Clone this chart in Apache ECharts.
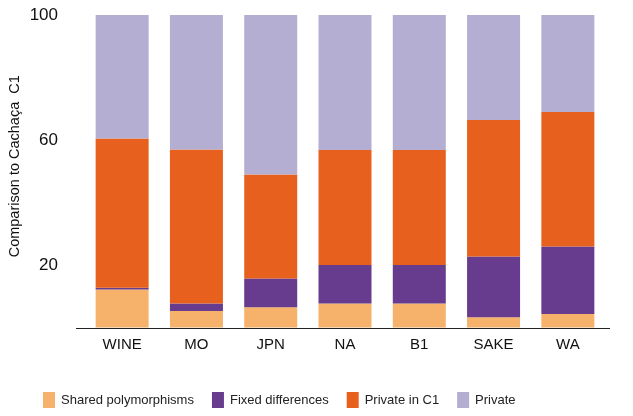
<!DOCTYPE html>
<html><head><meta charset="utf-8">
<script src="https://cdn.jsdelivr.net/npm/echarts@6/dist/echarts.min.js"></script>
<style>html,body{margin:0;padding:0;background:#fff}#c{width:633px;height:416px}</style>
</head><body><div id="c"></div>
<script>
var categories = ['WINE','MO','JPN','NA','B1','SAKE','WA'];
var sharedPolymorphisms = [12.2, 5.3, 6.5, 7.7, 7.7, 3.3, 4.3];
var fixedDifferences = [0.5, 2.4, 9.2, 12.3, 12.3, 19.4, 21.6];
var privateInC1 = [47.8, 49.3, 33.3, 36.8, 36.8, 43.7, 43.1];
var privateOther = [39.5, 43.0, 51.0, 43.2, 43.2, 33.6, 31.0];
var seriesNames = ['Shared polymorphisms','Fixed differences','Private in C1','Private'];
var yTickLabels = [20, 60, 100];

var colors = ['#F6B26B','#673C8E','#E8601E','#B4AED2'];
var font = 'Liberation Sans, Arial, sans-serif';
var chart = echarts.init(document.getElementById('c'), null, {renderer:'canvas'});
var dataSets = [sharedPolymorphisms, fixedDifferences, privateInC1, privateOther];
var option = {
  animation: false,
  color: colors,
  textStyle: {fontFamily: font},
  grid: {left: 85, right: 28, top: 15, bottom: 88.5, containLabel: false, outerBoundsMode: 'none'},
  legend: {
    left: 38, bottom: 3, itemWidth: 12, itemHeight: 16, itemGap: 18,
    icon: 'rect',
    textStyle: {fontSize: 13, color: '#222', fontFamily: font, padding: [0,0,0,1]},
    data: seriesNames
  },
  xAxis: {
    type: 'category', data: categories,
    axisLine: {show: false},
    axisTick: {show: false},
    axisLabel: {fontSize: 15, color: '#111', margin: 10, fontFamily: font}
  },
  yAxis: {
    type: 'value', min: 0, max: 100, interval: 20,
    name: 'Comparison to Cachaça  C1', nameLocation: 'middle', nameGap: 63,
    nameMoveOverlap: false,
    nameTextStyle: {fontSize: 14.5, color: '#111', fontFamily: font, padding: [0,0,0,10]},
    axisLine: {show: false}, axisTick: {show: false}, splitLine: {show: false},
    axisLabel: {fontSize: 17, color: '#111', margin: 27, fontFamily: font,
      formatter: function(v){ return yTickLabels.indexOf(v) >= 0 ? String(v) : ''; }}
  },
  series: dataSets.map(function(d, i){
    return {name: seriesNames[i], type: 'bar', stack: 'all', barWidth: 53, data: d};
  })
};
chart.setOption(option);
var y0 = chart.convertToPixel({yAxisIndex: 0}, 0);
chart.setOption({graphic: [{type: 'line', shape: {x1: 76, y1: y0 + 1, x2: 610, y2: y0 + 1},
  style: {stroke: '#222', lineWidth: 1.2}, z: 10}]});
</script></body></html>
